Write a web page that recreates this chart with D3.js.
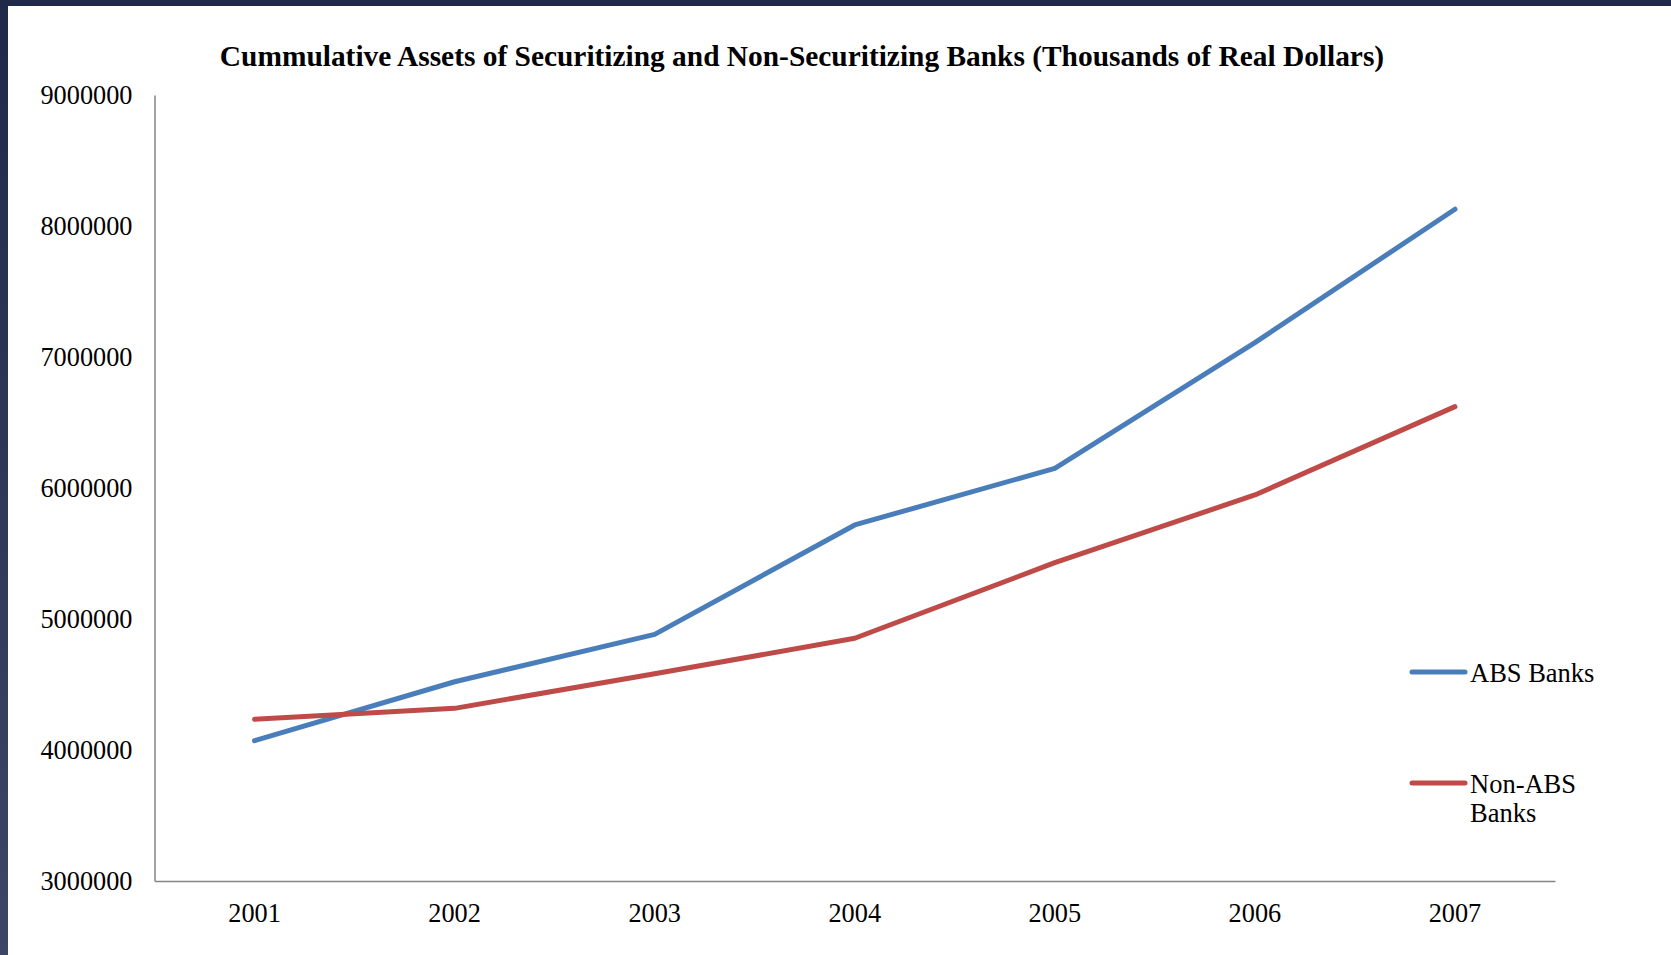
<!DOCTYPE html>
<html>
<head>
<meta charset="utf-8">
<script src="https://cdn.jsdelivr.net/npm/d3@7"></script>
<style>
  html, body { margin: 0; padding: 0; background: #fff; }
  svg { display: block; }
</style>
</head>
<body>
<svg id="chart" width="1671" height="955"></svg>
<script>
const years = ["2001", "2002", "2003", "2004", "2005", "2006", "2007"];
const absBanks = [4071000, 4521000, 4883000, 5718000, 6150000, 7110000, 8128000];
const nonAbsBanks = [4234000, 4318000, 4582000, 4853000, 5430000, 5947000, 6621000];
const yTicks = [3000000, 4000000, 5000000, 6000000, 7000000, 8000000, 9000000];
const seriesNames = ["ABS Banks", "Non-ABS Banks"];
const titleText = "Cummulative Assets of Securitizing and Non-Securitizing Banks (Thousands of Real Dollars)";

(function () {
const W = 1671, H = 955;
const svg = d3.select("#chart");
const defs = svg.append("defs");
const grad = defs.append("linearGradient").attr("id", "leftBand")
  .attr("x1", 0).attr("y1", 0).attr("x2", 0).attr("y2", 1);
grad.append("stop").attr("offset", "0%").attr("stop-color", "#1f2a4a");
grad.append("stop").attr("offset", "100%").attr("stop-color", "#3c4768");

svg.append("rect").attr("width", W).attr("height", H).attr("fill", "#fff");
svg.append("rect").attr("x", 0).attr("y", 0).attr("width", W).attr("height", 6).attr("fill", "#1f2a4a");
svg.append("rect").attr("x", 0).attr("y", 0).attr("width", 8).attr("height", H).attr("fill", "url(#leftBand)");

const pL = 154.5, pR = 1555, pT = 95, pB = 881;
const x = d3.scaleBand().domain(years).range([pL, pR]);
const y = d3.scaleLinear().domain([3000000, 9000000]).range([pB, pT]);
const font = "'Liberation Serif', 'Times New Roman', serif";

svg.append("text")
  .attr("x", 802).attr("y", 66)
  .attr("text-anchor", "middle")
  .attr("font-family", font).attr("font-weight", "bold").attr("font-size", 29.4)
  .attr("fill", "#000")
  .text(titleText);

const yAxis = svg.append("g").attr("transform", `translate(${pL},0)`)
  .call(d3.axisLeft(y).tickValues(yTicks).tickFormat(d3.format("d")).tickSize(0).tickPadding(22));
yAxis.select(".domain").attr("stroke", "#868686").attr("stroke-width", 1.5);
yAxis.selectAll("text").attr("font-family", font).attr("font-size", 26.3).attr("fill", "#000");

const xAxis = svg.append("g").attr("transform", `translate(0,${pB})`)
  .call(d3.axisBottom(x).tickSize(0).tickPadding(22));
xAxis.select(".domain").attr("stroke", "#868686").attr("stroke-width", 1.5);
xAxis.selectAll("text").attr("font-family", font).attr("font-size", 26.3).attr("fill", "#000");

const line = d3.line()
  .x((d, i) => x(years[i]) + x.bandwidth() / 2)
  .y(d => y(d));

const colors = ["#4a7ebb", "#be4b48"];
[absBanks, nonAbsBanks].forEach((s, k) => {
  svg.append("path").datum(s)
    .attr("d", line)
    .attr("fill", "none")
    .attr("stroke", colors[k])
    .attr("stroke-width", 5)
    .attr("stroke-linejoin", "round")
    .attr("stroke-linecap", "round");
});

const legendY = [672, 783];
seriesNames.forEach((name, k) => {
  const g = svg.append("g");
  g.append("line")
    .attr("x1", 1412).attr("x2", 1465)
    .attr("y1", legendY[k]).attr("y2", legendY[k])
    .attr("stroke", colors[k]).attr("stroke-width", 5).attr("stroke-linecap", "round");
  const t = g.append("text")
    .attr("x", 1470).attr("y", legendY[k] + 10)
    .attr("font-family", font).attr("font-size", 26.5).attr("fill", "#000");
  if (k === 0) {
    t.text(name);
  } else {
    ["Non-ABS", "Banks"].forEach((p, i) => {
      t.append("tspan").attr("x", 1470).attr("dy", i === 0 ? 0 : 29).text(p);
    });
  }
});
})();
</script>
</body>
</html>
